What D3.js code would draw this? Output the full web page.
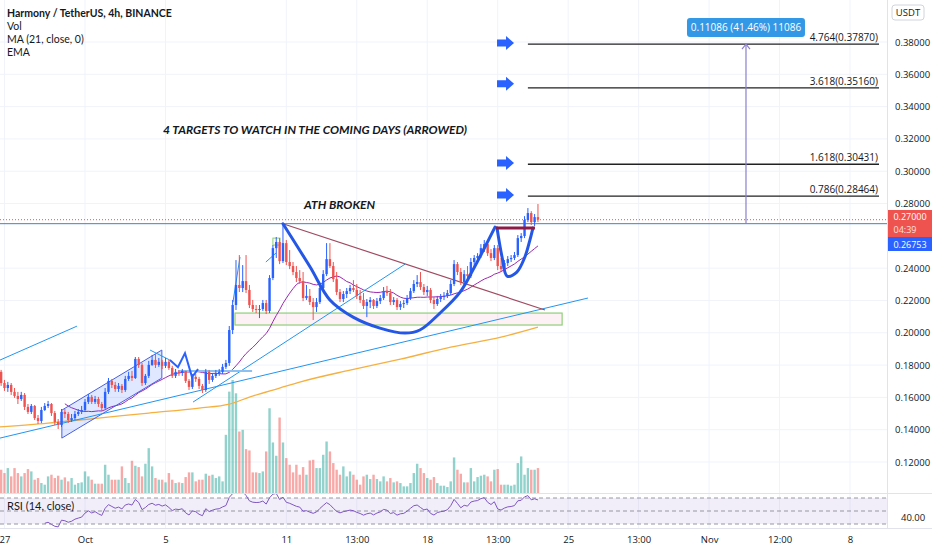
<!DOCTYPE html>
<html>
<head>
<meta charset="utf-8">
<script src="https://cdn.jsdelivr.net/npm/d3@7"></script>
<style>
  body { margin: 0; background: #fff; }
  svg { display: block; font-family: "Open Sans", sans-serif; }
</style>
</head>
<body>
<svg id="chart" width="932" height="550"></svg>
<script>
// ONE/USDT 4h candles (first candle Sep 26 16:00 UTC)
const firstOpen = 0.1813;
const closes = [
  0.1758,0.1689,0.1658,0.1677,0.1634,0.1609,0.1590,0.1615,0.1541,0.1510,
  0.1547,0.1472,0.1454,0.1522,0.1547,0.1559,0.1503,0.1448,0.1429,0.1510,
  0.1497,0.1460,0.1472,0.1497,0.1510,0.1522,0.1572,0.1603,0.1572,0.1590,
  0.1559,0.1534,0.1634,0.1702,0.1677,0.1652,0.1671,0.1646,0.1714,0.1733,
  0.1720,0.1838,0.1801,0.1689,0.1733,0.1801,0.1832,0.1801,0.1820,0.1795,
  0.1820,0.1782,0.1733,0.1758,0.1751,0.1764,0.1702,0.1665,0.1727,0.1714,
  0.1671,0.1646,0.1758,0.1708,0.1733,0.1751,0.1758,0.1789,0.1813,0.2017,
  0.2172,0.2296,0.2277,0.2320,0.2265,0.2172,0.2147,0.2141,0.2147,0.2184,
  0.2135,0.2339,0.2524,0.2562,0.2444,0.2555,0.2438,0.2413,0.2376,0.2339,
  0.2320,0.2215,0.2228,0.2190,0.2159,0.2190,0.2277,0.2363,0.2456,0.2413,
  0.2332,0.2252,0.2209,0.2240,0.2258,0.2277,0.2265,0.2228,0.2203,0.2166,
  0.2190,0.2203,0.2166,0.2196,0.2215,0.2258,0.2246,0.2190,0.2203,0.2159,
  0.2178,0.2184,0.2215,0.2258,0.2302,0.2314,0.2283,0.2252,0.2265,0.2203,
  0.2178,0.2209,0.2221,0.2228,0.2246,0.2302,0.2425,0.2376,0.2314,0.2363,
  0.2351,0.2438,0.2463,0.2475,0.2524,0.2549,0.2493,0.2463,0.2524,0.2413,
  0.2394,0.2432,0.2456,0.2463,0.2481,0.2586,0.2599,0.2698,0.2741,0.2685,
  0.2716,0.2700
];
const highs = [
  0.1832,0.1770,0.1708,0.1696,0.1689,0.1658,0.1634,0.1634,0.1627,0.1559,
  0.1559,0.1553,0.1491,0.1541,0.1565,0.1578,0.1565,0.1516,0.1466,0.1528,
  0.1528,0.1510,0.1497,0.1516,0.1528,0.1547,0.1590,0.1621,0.1615,0.1609,
  0.1603,0.1572,0.1658,0.1720,0.1714,0.1696,0.1689,0.1683,0.1733,0.1758,
  0.1764,0.1850,0.1850,0.1813,0.1745,0.1826,0.1863,0.1869,0.1844,0.1832,
  0.1844,0.1832,0.1795,0.1776,0.1770,0.1776,0.1764,0.1714,0.1745,0.1745,
  0.1727,0.1683,0.1776,0.1770,0.1751,0.1770,0.1776,0.1807,0.1832,0.2042,
  0.2203,0.2450,0.2481,0.2419,0.2481,0.2296,0.2203,0.2172,0.2172,0.2203,
  0.2203,0.2357,0.2543,0.2593,0.2586,0.2675,0.2574,0.2512,0.2438,0.2413,
  0.2388,0.2376,0.2296,0.2271,0.2215,0.2215,0.2302,0.2388,0.2555,0.2555,
  0.2438,0.2376,0.2271,0.2258,0.2277,0.2296,0.2326,0.2302,0.2265,0.2246,
  0.2209,0.2221,0.2209,0.2215,0.2234,0.2283,0.2290,0.2271,0.2221,0.2215,
  0.2196,0.2203,0.2234,0.2277,0.2326,0.2357,0.2376,0.2302,0.2290,0.2277,
  0.2221,0.2228,0.2240,0.2252,0.2265,0.2326,0.2450,0.2438,0.2401,0.2388,
  0.2413,0.2463,0.2481,0.2493,0.2549,0.2574,0.2568,0.2518,0.2543,0.2543,
  0.2463,0.2450,0.2475,0.2481,0.2500,0.2605,0.2617,0.2722,0.2772,0.2753,
  0.2735,0.2797
];
const lows = [
  0.1720,0.1671,0.1640,0.1634,0.1615,0.1597,0.1559,0.1578,0.1522,0.1497,
  0.1497,0.1460,0.1435,0.1441,0.1516,0.1534,0.1485,0.1429,0.1404,0.1417,
  0.1472,0.1441,0.1448,0.1460,0.1485,0.1497,0.1510,0.1559,0.1559,0.1559,
  0.1541,0.1516,0.1528,0.1621,0.1658,0.1634,0.1634,0.1627,0.1634,0.1702,
  0.1702,0.1714,0.1782,0.1671,0.1677,0.1720,0.1795,0.1782,0.1789,0.1776,
  0.1782,0.1770,0.1720,0.1720,0.1733,0.1733,0.1689,0.1646,0.1652,0.1696,
  0.1652,0.1627,0.1634,0.1683,0.1696,0.1720,0.1733,0.1745,0.1776,0.1795,
  0.1992,0.2141,0.2252,0.2252,0.2246,0.2153,0.2129,0.2122,0.2091,0.2135,
  0.2116,0.2122,0.2326,0.2463,0.2425,0.2432,0.2419,0.2394,0.2357,0.2314,
  0.2302,0.2196,0.2203,0.2172,0.2079,0.2129,0.2178,0.2265,0.2351,0.2401,
  0.2314,0.2234,0.2190,0.2190,0.2215,0.2240,0.2252,0.2209,0.2184,0.2147,
  0.2097,0.2153,0.2147,0.2153,0.2178,0.2203,0.2228,0.2172,0.2172,0.2141,
  0.2141,0.2153,0.2172,0.2203,0.2246,0.2283,0.2265,0.2234,0.2228,0.2184,
  0.2147,0.2166,0.2190,0.2203,0.2215,0.2234,0.2289,0.2357,0.2296,0.2296,
  0.2332,0.2339,0.2401,0.2438,0.2463,0.2500,0.2475,0.2444,0.2450,0.2388,
  0.2376,0.2382,0.2413,0.2438,0.2450,0.2469,0.2562,0.2586,0.2685,0.2667,
  0.2661,0.2685
];
// volume, millions
const vols = [
  11.5,7.0,6.0,7.5,5.0,7.5,6.0,5.0,6.0,7.2,
  6.5,4.0,4.5,3.0,2.5,5.0,5.5,4.5,5.2,4.0,
  4.7,3.5,4.5,2.5,3.0,3.2,6.5,5.0,4.0,2.8,
  2.8,2.8,8.5,5.5,4.0,4.0,4.0,8.0,4.5,3.0,
  9.7,8.2,7.8,5.0,8.8,13.5,8.0,4.5,4.0,4.0,
  3.2,6.0,4.0,3.0,3.2,3.0,4.8,6.2,6.2,3.5,
  4.0,4.0,5.8,5.2,5.5,4.5,5.0,3.5,17.5,30.5,
  34.0,30.0,18.5,19.0,13.2,12.8,6.2,6.2,6.0,6.5,
  12.5,25.5,15.2,11.2,22.7,15.2,10.5,8.5,6.2,8.5,
  5.5,7.8,5.5,9.8,10.0,7.5,7.5,11.5,15.5,12.5,
  9.0,7.0,5.5,8.0,5.0,6.5,5.5,4.0,2.5,5.0,
  5.5,4.2,5.5,4.2,3.5,5.0,3.5,4.5,3.2,3.5,
  3.0,2.0,2.0,3.0,6.0,8.8,7.5,6.0,4.5,4.0,
  4.8,3.0,2.2,2.2,1.8,3.5,10.7,7.0,5.8,3.2,
  3.2,7.5,3.5,4.8,5.2,5.5,5.0,3.5,7.0,7.2,
  2.5,2.5,2.5,2.2,2.5,9.0,11.0,5.5,7.5,7.0,
  7.0,7.5
];
// long EMA vertices (candle index, price)
const emaIdx   = [0, 15, 30, 45, 60, 69, 75, 84, 90, 105, 120, 135, 150, 161];
const emaPrice = [0.1416,0.1441,0.1472,0.1503,0.1534,0.1558,0.1602,0.1658,0.1695,0.1769,0.1837,0.1911,0.1973,0.2035];

// axis ticks
const priceTicks = [0.12,0.14,0.16,0.18,0.20,0.22,0.24,0.28,0.30,0.32,0.34,0.36,0.38];
const timeTicks = [
  Date.UTC(2021,8,27), Date.UTC(2021,9,1), Date.UTC(2021,9,5), Date.UTC(2021,9,11),
  Date.UTC(2021,9,14,12), Date.UTC(2021,9,18), Date.UTC(2021,9,21,12), Date.UTC(2021,9,25),
  Date.UTC(2021,9,28,12), Date.UTC(2021,10,1), Date.UTC(2021,10,4,12), Date.UTC(2021,10,8)
];
const timeLabels = ["27","Oct","5","11","13:00","18","13:00","25","13:00","Nov","12:00","8"];

// drawings (candle index, price)
const athPrice = 0.26753, lastPrice = 0.27000;
const fibRatios = ["4.764","3.618","1.618","0.786"];
const fibLevels = [0.37870, 0.35160, 0.30431, 0.28464];
const arrowLevels = [0.3794, 0.3542, 0.3051, 0.2853];
const cupIdx   = [85.0, 93.1, 99.0, 105.9, 113.9, 121.4, 125.8, 131.8, 137.8, 141.6, 145.2, 148.2];
const cupPrice = [0.2675,0.2407,0.2203,0.2097,0.2029,0.1998,0.2017,0.2122,0.2252,0.2388,0.2531,0.2654];
const handleIdx   = [148.8, 150.3, 151.8, 154.7, 157.1, 158.6, 159.5];
const handlePrice = [0.2648,0.2469,0.2351,0.2376,0.2469,0.2574,0.2648];
const zigIdx   = [51.3, 53.7, 55.8, 57.9, 59.7];
const zigPrice = [0.1831,0.1787,0.1874,0.1726,0.1775];
const channelIdx   = [19.1, 48.9, 48.9, 19.1];
const channelPrice = [0.1521,0.1893,0.1720,0.1348];
const thinLines = [ // [i1,p1,i2,p2]
  [0.66,0.1348,175.9,0.2215],
  [58.2,0.1571,121.4,0.2425],
  [0.66,0.1831,23.6,0.2041],
  [45.4,0.1893,51.3,0.1831],
  [70.1,0.2190,72.2,0.2469],
  [79.9,0.2438,82.9,0.2493]
];
const zone = {i1:70.7, i2:168.2, top:0.2122, bottom:0.2048};
const smallBox = {i1:82.0, i2:84.1, top:0.2586, bottom:0.2543};
const flatLine = {i1:53.7, i2:75.8, p:0.1763};
const triLine = [85.0, 0.2675, 163.1, 0.2141];
const rimLine = [148.5, 160.1, 0.2648];
const measure = {i:223, from:0.26753, to:0.37870, text:"0.11086 (41.46%) 11086"};

const W = 932, plotR = 887, mainB = 493, rsiB = 528;
const t0 = Date.UTC(2021,8,26,16), H4 = 4*3600e3;

const svg = d3.select('#chart');
const x = d3.scaleUtc()
  .domain([new Date(Date.UTC(2021,9,1)), new Date(Date.UTC(2021,10,8))])
  .range([85, 850]);
const xi = i => x(new Date(t0 + i*H4));
const y = d3.scaleLinear().domain([0.12, 0.38]).range([462, 42]);
const yv = d3.scaleLinear().domain([0, 34]).range([mainB, 380]);
const yR = d3.scaleLinear().domain([30, 70]).range([524, 498]);

const candles = closes.map((c,i) => ({
  i, o: i ? closes[i-1] : firstOpen, c, h: highs[i], l: lows[i], v: vols[i]
}));

//Clip paths
const defs = svg.append('defs');
defs.append('clipPath').attr('id','mainClip').append('rect')
  .attr('x',0).attr('y',0).attr('width',plotR).attr('height',mainB);
defs.append('clipPath').attr('id','rsiClip').append('rect')
  .attr('x',0).attr('y',mainB+1).attr('width',plotR).attr('height',rsiB-mainB-1);

//Grid
svg.append('g').selectAll('line').data(timeTicks).join('line')
  .attr('x1', d => x(d)).attr('x2', d => x(d))
  .attr('y1', 0).attr('y2', rsiB)
  .attr('stroke', '#f0f3fa');
svg.append('g').selectAll('line').data(priceTicks).join('line')
  .attr('x1', 0).attr('x2', plotR)
  .attr('y1', d => y(d)).attr('y2', d => y(d))
  .attr('stroke', '#f0f3fa');

const main = svg.append('g').attr('clip-path','url(#mainClip)');

//Support zone
main.append('rect')
  .attr('x', xi(zone.i1)).attr('width', xi(zone.i2) - xi(zone.i1))
  .attr('y', y(zone.top)).attr('height', y(zone.bottom) - y(zone.top))
  .attr('fill', 'rgba(244,143,177,0.12)').attr('stroke', '#8fcf7a').attr('stroke-width', 1.2);

//Volume
main.append('g').selectAll('rect').data(candles).join('rect')
  .attr('x', d => xi(d.i) - 1.2).attr('width', 2.4)
  .attr('y', d => yv(d.v)).attr('height', d => mainB - yv(d.v))
  .attr('fill', d => d.c >= d.o ? 'rgba(38,166,154,0.5)' : 'rgba(239,83,80,0.5)');

//EMA
main.append('path')
  .datum(emaIdx.map((i,k) => [xi(i), y(emaPrice[k])]))
  .attr('d', d3.line().curve(d3.curveMonotoneX))
  .attr('fill','none').attr('stroke','#f5b041').attr('stroke-width',1.3);

//MA 21
const ma = candles.map((d,i) => i < 20 ? null : d3.mean(closes.slice(i-20, i+1)));
main.append('path')
  .datum(candles.filter(d => ma[d.i] !== null))
  .attr('d', d3.line().x(d => xi(d.i)).y(d => y(ma[d.i])))
  .attr('fill','none').attr('stroke','#9c27b0').attr('stroke-width',1);

//Channel
main.append('polygon')
  .attr('points', channelIdx.map((i,k) => [xi(i), y(channelPrice[k])].join(',')).join(' '))
  .attr('fill','rgba(41,98,255,0.15)').attr('stroke','#4a5fe0').attr('stroke-width',1);

//Thin trend lines
main.append('g').selectAll('line').data(thinLines).join('line')
  .attr('x1', d => xi(d[0])).attr('y1', d => y(d[1]))
  .attr('x2', d => xi(d[2])).attr('y2', d => y(d[3]))
  .attr('stroke','#2196f3').attr('stroke-width',1);

main.append('line')
  .attr('x1', xi(flatLine.i1)).attr('x2', xi(flatLine.i2))
  .attr('y1', y(flatLine.p)).attr('y2', y(flatLine.p))
  .attr('stroke','#8cc0f0').attr('stroke-width',2);

main.append('rect')
  .attr('x', xi(smallBox.i1)).attr('width', xi(smallBox.i2) - xi(smallBox.i1))
  .attr('y', y(smallBox.top)).attr('height', y(smallBox.bottom) - y(smallBox.top))
  .attr('fill','none').attr('stroke','#8fcf7a').attr('stroke-width',1);

//Descending line
main.append('line')
  .attr('x1', xi(triLine[0])).attr('y1', y(triLine[1]))
  .attr('x2', xi(triLine[2])).attr('y2', y(triLine[3]))
  .attr('stroke','#a04a60').attr('stroke-width',1.2);

//ATH and last price lines
main.append('line')
  .attr('x1',0).attr('x2',plotR).attr('y1',y(athPrice)).attr('y2',y(athPrice))
  .attr('stroke','#3f7fd6').attr('stroke-width',1);
main.append('line')
  .attr('x1',0).attr('x2',plotR).attr('y1',y(lastPrice)).attr('y2',y(lastPrice))
  .attr('stroke','#ef5350').attr('stroke-width',1).attr('stroke-dasharray','1,2');

//Candles
const cg = main.append('g');
cg.selectAll('line').data(candles).join('line')
  .attr('x1', d => xi(d.i)).attr('x2', d => xi(d.i))
  .attr('y1', d => y(Math.max(d.h, d.o, d.c))).attr('y2', d => y(Math.min(d.l, d.o, d.c)))
  .attr('stroke', d => d.c >= d.o ? '#2962ff' : '#ef5350').attr('stroke-width', 1);
cg.selectAll('rect').data(candles).join('rect')
  .attr('x', d => xi(d.i) - 1.2).attr('width', 2.4)
  .attr('y', d => y(Math.max(d.o, d.c)))
  .attr('height', d => Math.max(1, Math.abs(y(d.o) - y(d.c))))
  .attr('fill', d => d.c >= d.o ? '#2962ff' : '#ef5350');

//Zigzag
main.append('path')
  .datum(zigIdx.map((i,k) => [xi(i), y(zigPrice[k])]))
  .attr('d', d3.line())
  .attr('fill','none').attr('stroke','#2962ff').attr('stroke-width',2);

//Cup and handle
main.append('path')
  .datum(cupIdx.map((i,k) => [xi(i), y(cupPrice[k])]))
  .attr('d', d3.line().curve(d3.curveCatmullRom))
  .attr('fill','none').attr('stroke','#2457e6').attr('stroke-width',3).attr('stroke-linecap','round');
main.append('path')
  .datum(handleIdx.map((i,k) => [xi(i), y(handlePrice[k])]))
  .attr('d', d3.line().curve(d3.curveCatmullRom))
  .attr('fill','none').attr('stroke','#2457e6').attr('stroke-width',3).attr('stroke-linecap','round');
main.append('line')
  .attr('x1', xi(rimLine[0])).attr('x2', xi(rimLine[1]))
  .attr('y1', y(rimLine[2])).attr('y2', y(rimLine[2]))
  .attr('stroke','#8e1b45').attr('stroke-width',3);

//Fib targets
const fibX1 = xi(158), fibX2 = 879;
const fg = svg.append('g');
fg.selectAll('line').data(fibLevels).join('line')
  .attr('x1', fibX1).attr('x2', fibX2)
  .attr('y1', d => y(d)).attr('y2', d => y(d))
  .attr('stroke','#222').attr('stroke-width',1.3);
fg.selectAll('text').data(fibLevels).join('text')
  .attr('x', fibX2 - 1).attr('y', d => y(d) - 3)
  .attr('text-anchor','end').attr('font-size','10px').attr('fill','#131722')
  .text((d,k) => fibRatios[k] + '(' + d.toFixed(5) + ')');

//Arrows
svg.append('g').selectAll('path').data(arrowLevels).join('path')
  .attr('transform', d => `translate(${xi(148.8)},${y(d)})`)
  .attr('d','M0,-3.5H9V-7L17,0L9,7V3.5H0Z')
  .attr('fill','#2962ff');

//Price range measure
const mx = xi(measure.i);
svg.append('line')
  .attr('x1',mx).attr('x2',mx).attr('y1',y(measure.from)).attr('y2',y(measure.to))
  .attr('stroke','#8a7fd0').attr('stroke-width',1.2);
svg.append('path')
  .attr('transform',`translate(${mx},${y(measure.to)})`)
  .attr('d','M-4,5L0,0L4,5').attr('fill','none').attr('stroke','#8a7fd0').attr('stroke-width',1.2);
svg.append('rect')
  .attr('x', mx - 59).attr('y', y(measure.to) - 26).attr('width', 118).attr('height', 19)
  .attr('rx', 3).attr('fill','#3399e6');
svg.append('text')
  .attr('x', mx).attr('y', y(measure.to) - 13.3)
  .attr('text-anchor','middle').attr('font-size','10px').attr('fill','#fff')
  .text(measure.text);

//Annotations
svg.append('text')
  .attr('x', 163).attr('y', 134)
  .attr('font-family','Lato, sans-serif').attr('font-size','12px')
  .attr('font-weight','bold').attr('font-style','italic').attr('fill','#131722')
  .text('4 TARGETS TO WATCH IN THE COMING DAYS (ARROWED)');
svg.append('text')
  .attr('x', 304).attr('y', 209)
  .attr('font-family','Lato, sans-serif').attr('font-size','12px')
  .attr('font-weight','bold').attr('font-style','italic').attr('fill','#131722')
  .text('ATH BROKEN');

//Legend
const legend = ['Harmony / TetherUS, 4h, BINANCE','Vol','MA (21, close, 0)','EMA'];
svg.append('g').selectAll('text').data(legend).join('text')
  .attr('x', 7).attr('y', (d,k) => 17 + k*13)
  .attr('font-family','Lato, sans-serif').attr('font-size','10.5px')
  .attr('font-weight', (d,k) => k ? 'normal' : 'bold').attr('fill','#131722')
  .text(d => d);

//RSI pane
const rsi = (function(c, n){
  const out = c.map(() => null);
  let ag = 0, al = 0;
  for (let i = 1; i <= n; i++) { const d = c[i]-c[i-1]; if (d > 0) ag += d; else al -= d; }
  ag /= n; al /= n;
  out[n] = 100 - 100/(1 + ag/al);
  for (let i = n+1; i < c.length; i++) {
    const d = c[i]-c[i-1];
    ag = (ag*(n-1) + Math.max(d,0))/n;
    al = (al*(n-1) + Math.max(-d,0))/n;
    out[i] = al === 0 ? 100 : 100 - 100/(1 + ag/al);
  }
  return out;
})(closes, 14);

const rg = svg.append('g').attr('clip-path','url(#rsiClip)');
rg.append('rect').attr('x',0).attr('width',plotR)
  .attr('y', yR(70)).attr('height', yR(30) - yR(70))
  .attr('fill','rgba(126,87,194,0.1)');
rg.selectAll('line.lvl').data([70,50,30]).join('line').attr('class','lvl')
  .attr('x1',0).attr('x2',plotR).attr('y1',d => yR(d)).attr('y2',d => yR(d))
  .attr('stroke','#9598a1').attr('stroke-dasharray','4,3');
rg.append('path')
  .datum(candles.filter(d => rsi[d.i] !== null))
  .attr('d', d3.line().x(d => xi(d.i)).y(d => yR(rsi[d.i])))
  .attr('fill','none').attr('stroke','#7e57c2').attr('stroke-width',1);
svg.append('text').attr('x',7).attr('y',510)
  .attr('font-family','Lato, sans-serif').attr('font-size','11px').attr('fill','#131722')
  .text('RSI (14, close)');

//Pane borders
svg.append('line').attr('x1',0).attr('x2',W).attr('y1',mainB+0.5).attr('y2',mainB+0.5).attr('stroke','#e0e3eb');
svg.append('line').attr('x1',0).attr('x2',W).attr('y1',rsiB+0.5).attr('y2',rsiB+0.5).attr('stroke','#e0e3eb');
svg.append('line').attr('x1',plotR+0.5).attr('x2',plotR+0.5).attr('y1',0).attr('y2',rsiB).attr('stroke','#e0e3eb');

//Right price axis
const yAxis = svg.append('g').attr('transform',`translate(${plotR},0)`)
  .call(d3.axisRight(y).tickValues(priceTicks).tickFormat(d3.format('.5f')).tickSize(0).tickPadding(8));
yAxis.select('.domain').remove();
yAxis.selectAll('text').attr('font-family','"Open Sans", sans-serif').attr('font-size','9.5px').attr('fill','#131722');

const rAxis = svg.append('g').attr('transform',`translate(${plotR},0)`)
  .call(d3.axisRight(yR).tickValues([40]).tickFormat(d3.format('.2f')).tickSize(0).tickPadding(14));
rAxis.select('.domain').remove();
rAxis.selectAll('text').attr('font-family','"Open Sans", sans-serif').attr('font-size','9.5px').attr('fill','#131722');

//Price labels
svg.append('rect').attr('x',plotR+1).attr('y',210).attr('width',W-plotR-1).attr('height',27).attr('fill','#ef5350');
svg.append('text').attr('x',910).attr('y',220).attr('text-anchor','middle')
  .attr('font-size','9px').attr('fill','#fff').text(lastPrice.toFixed(5));
svg.append('text').attr('x',905).attr('y',233).attr('text-anchor','middle')
  .attr('font-size','9px').attr('fill','#fde0df').text('04:39');
svg.append('rect').attr('x',plotR+1).attr('y',237).attr('width',W-plotR-1).attr('height',14).attr('fill','#2962ff');
svg.append('text').attr('x',910).attr('y',247.5).attr('text-anchor','middle')
  .attr('font-size','9px').attr('fill','#fff').text(athPrice.toFixed(5));

//Currency button
svg.append('rect').attr('x',892).attr('y',5).attr('width',32).attr('height',15).attr('rx',3)
  .attr('fill','#fff').attr('stroke','#d1d4dc');
svg.append('text').attr('x',908).attr('y',16).attr('text-anchor','middle')
  .attr('font-size','9.5px').attr('fill','#131722').text('USDT');

//Time axis
const xAxis = svg.append('g').attr('transform',`translate(0,${rsiB})`)
  .call(d3.axisBottom(x).tickValues(timeTicks.map(t => new Date(t)))
    .tickFormat((d,k) => timeLabels[k]).tickSize(0).tickPadding(8));
xAxis.select('.domain').remove();
xAxis.selectAll('text').attr('font-family','"Open Sans", sans-serif').attr('font-size','9.5px').attr('fill','#131722');
</script>
</body>
</html>
